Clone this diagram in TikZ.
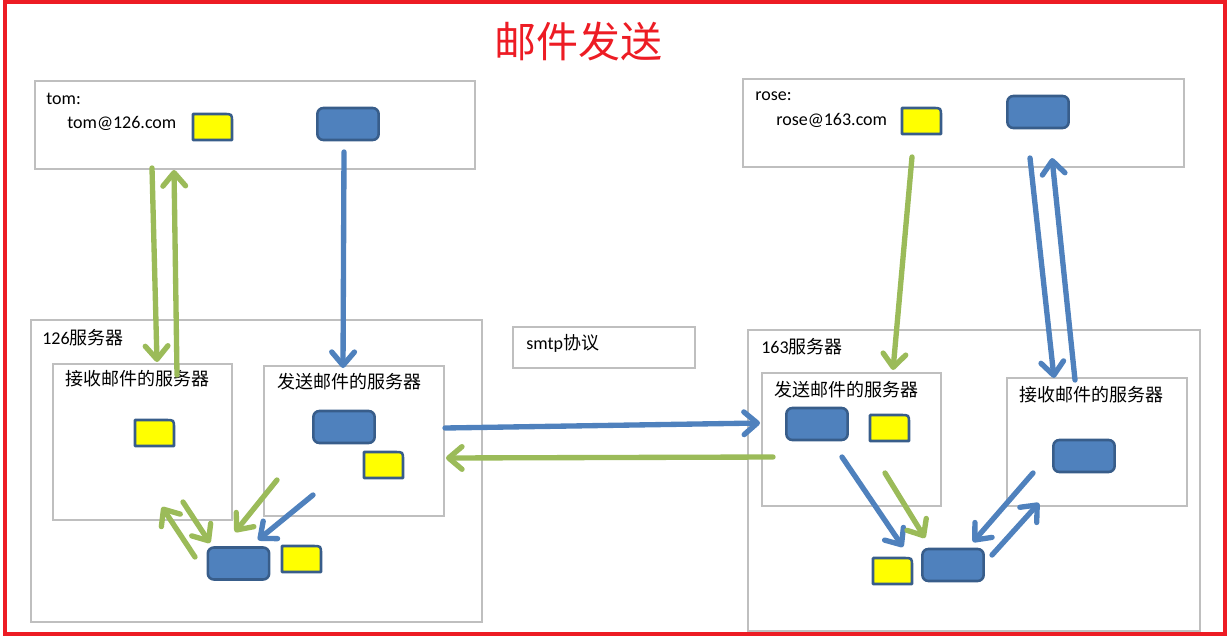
\documentclass[tikz,border=0pt]{standalone}
\usepackage{fontspec}
\setmainfont{Carlito}
\newfontfamily\cjk{Noto Sans CJK SC}
\usepackage{tikz}
\usetikzlibrary{arrows.meta, positioning, fit}
\definecolor{boxgray}{RGB}{191,191,191}
\definecolor{framered}{RGB}{237,28,36}
\definecolor{mailblue}{RGB}{79,129,189}
\definecolor{mailedge}{RGB}{56,93,138}
\definecolor{mailgreen}{RGB}{155,187,89}
\definecolor{mailyellow}{RGB}{255,255,0}

\newcommand{\mailcard}[2]{%
  \draw[letterbox] (#1,#2) -- (#1,#2+26) -- (#1+39,#2+26) -- (#1+39,#2+8)
    .. controls (#1+39,#2) .. (#1+31,#2) -- cycle;}

\begin{document}
\begin{tikzpicture}[x=0.75pt, y=-0.75pt]
\tikzstyle{area}=[draw=boxgray, line width=0.8pt, inner sep=0pt]
\tikzstyle{msg}=[rectangle, draw=mailedge, fill=mailblue, line width=1.9pt,
  rounded corners=4.5pt, minimum width=46pt, minimum height=24pt, inner sep=0pt]
\tikzstyle{letterbox}=[draw=mailedge, fill=mailyellow, line width=1.9pt, line join=round]
\tikzstyle{txt}=[anchor=west, inner sep=0pt, font=\fontsize{13.5}{16}\selectfont]
\tikzstyle{barrow}=[draw=mailblue, line width=4pt, line cap=round,
  -{Straight Barb[length=10pt, width=17pt, round]}]
\tikzstyle{garrow}=[barrow, draw=mailgreen]

\useasboundingbox (0,0) rectangle (1231,639);
\draw[framered, line width=3pt] (5,2) rectangle (1225,634);

\node (title) at (578,42) [text=framered, font=\cjk\fontsize{31.5}{36}\selectfont] {邮件发送};

\node (tom) [area, fit={(35,81) (475,169)}] {};
\node (rose) [area, fit={(743,79) (1184,167)}] {};
\node (srv126) [area, fit={(31,320) (482,622)}] {};
\node (recv126) [area, fit={(53,364) (232,520)}] {};
\node (send126) [area, fit={(264,366) (444,516)}] {};
\node (smtp) [area, fit={(513,327) (695,368)}] {};
\node (srv163) [area, fit={(748,330) (1200,631)}] {};
\node (send163) [area, fit={(762,373) (941,506)}] {};
\node (recv163) [area, fit={(1007,378) (1187,506)}] {};

\node (tomName) at (46,99) [txt] {tom:};
\node (tomAddr) at (67,123) [txt] {tom@126.com};
\node (roseName) at (755,96) [txt] {rose:};
\node (roseAddr) at (776,120) [txt] {rose@163.com};
\node (srv126Label) at (42,338) [txt] {126{\cjk 服务器}};
\node (recv126Label) at (65,379) [txt, font=\cjk\fontsize{13.5}{16}\selectfont] {接收邮件的服务器};
\node (send126Label) at (277,382) [txt, font=\cjk\fontsize{13.5}{16}\selectfont] {发送邮件的服务器};
\node (smtpLabel) at (526,343) [txt] {smtp{\cjk 协议}};
\node (srv163Label) at (761,347) [txt] {163{\cjk 服务器}};
\node (send163Label) at (774,390) [txt, font=\cjk\fontsize{13.5}{16}\selectfont] {发送邮件的服务器};
\node (recv163Label) at (1019,395) [txt, font=\cjk\fontsize{13.5}{16}\selectfont] {接收邮件的服务器};

\node (tomMsg) at (348,124) [msg] {};
\node (roseMsg) at (1038,112) [msg] {};
\node (send126Msg) at (344,427) [msg] {};
\node (out126Msg) at (238.5,563.5) [msg] {};
\node (send163Msg) at (817,424) [msg] {};
\node (recv163Msg) at (1084,456) [msg] {};
\node (in163Msg) at (953,565) [msg] {};

\mailcard{193}{114}
\mailcard{902}{108}
\mailcard{135}{420}
\mailcard{364}{452}
\mailcard{282}{546}
\mailcard{870}{415}
\mailcard{873}{558}

\foreach \n/\x/\y in {tomOut/152/168, recvIn/157/362, recvOut/177/375, tomIn/174/170,
    tomSend/344/152, sendIn/343/368, roseOut/912/157, send163In/893/370,
    roseSend/1030/158, recv163In/1054/378, recv163Out/1075/380, roseIn/1052/158,
    smtpOut/445/428, smtpIn/760/423, backOut/773/457, backIn/446/458,
    pickS/195/557, pickE/162/507, dropS/183/502, dropE/210/543,
    putS/277/480, putE/235/532, sendS/313/495, sendE/258/540,
    relayS/842/457, relayE/903/547, storeS/885/473, storeE/925/538,
    fetchS/1033/473, fetchE/973/542, giveS/992/555, giveE/1039/503}
  \coordinate (\n) at (\x,\y);

\draw [garrow] (tomOut) -- (recvIn);
\draw [garrow] (recvOut) -- (tomIn);
\draw [barrow] (tomSend) -- (sendIn);
\draw [garrow] (roseOut) -- (send163In);
\draw [barrow] (roseSend) -- (recv163In);
\draw [barrow] (recv163Out) -- (roseIn);
\draw [barrow] (smtpOut) -- (smtpIn);
\draw [garrow] (backOut) -- (backIn);

\draw [garrow] (pickS) -- (pickE);
\draw [garrow] (dropS) -- (dropE);
\draw [garrow] (putS) -- (putE);
\draw [barrow] (sendS) -- (sendE);

\draw [barrow] (relayS) -- (relayE);
\draw [garrow] (storeS) -- (storeE);
\draw [barrow] (fetchS) -- (fetchE);
\draw [barrow] (giveS) -- (giveE);
\end{tikzpicture}
\end{document}
